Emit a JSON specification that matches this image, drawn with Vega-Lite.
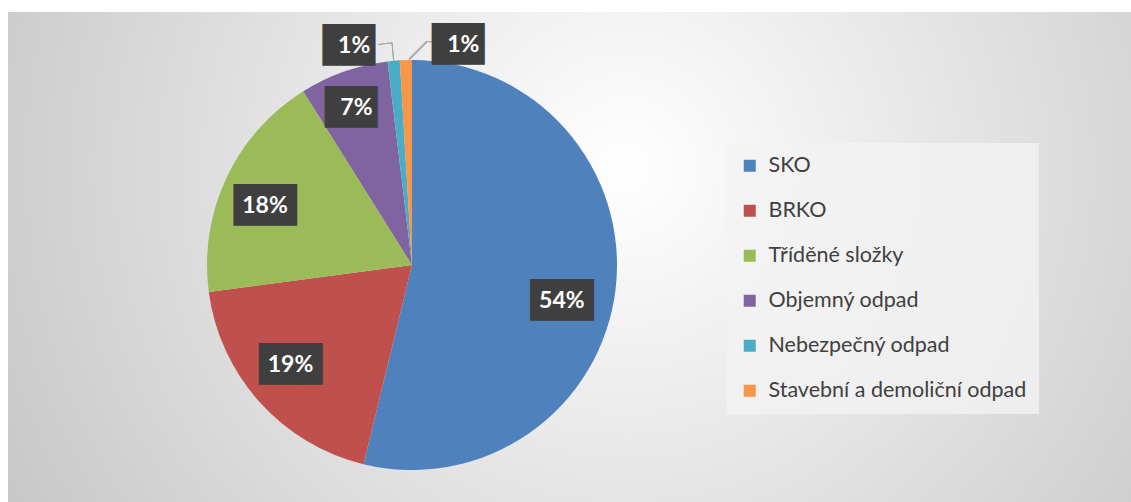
{
  "$schema": "https://vega.github.io/schema/vega-lite/v6.json",
  "width": 1131,
  "height": 502,
  "autosize": {"type": "fit", "contains": "padding"},
  "padding": {"left": 8, "top": 12, "right": 0, "bottom": 0},
  "background": "white",
  "config": {"view": {"stroke": null}},
  "datasets": {
    "waste": [
      {"category": "SKO", "value": 0.538, "rank": 1},
      {"category": "BRKO", "value": 0.191, "rank": 2},
      {"category": "Tříděné složky", "value": 0.182, "rank": 3},
      {"category": "Objemný odpad", "value": 0.07, "rank": 4},
      {"category": "Nebezpečný odpad", "value": 0.0095, "rank": 5},
      {"category": "Stavební a demoliční odpad", "value": 0.0095, "rank": 6}
    ]
  },
  "layer": [
    {
      "data": {"values": [{"bg": 1}]},
      "mark": {
        "type": "rect",
        "fill": {
          "gradient": "radial",
          "x1": 0.55, "y1": 0.42, "r1": 0,
          "x2": 0.55, "y2": 0.42, "r2": 0.72,
          "stops": [
            {"offset": 0, "color": "#ffffff"},
            {"offset": 1, "color": "#bfbfbf"}
          ]
        }
      },
      "encoding": {}
    },
    {
      "data": {"name": "waste"},
      "transform": [
        {"stack": "value", "groupby": [], "sort": [{"field": "rank", "order": "ascending"}], "as": ["v0", "v1"]},
        {"calculate": "(datum.v0 + datum.v1) / 2", "as": "mid"}
      ],
      "layer": [
        {
          "mark": {"type": "arc", "x": 404, "y": 253, "outerRadius": 205},
          "encoding": {
            "theta": {"field": "v0", "type": "quantitative", "scale": {"domain": [0, 1]}},
            "theta2": {"field": "v1"},
            "color": {
              "field": "category",
              "type": "nominal",
              "scale": {
                "domain": ["SKO", "BRKO", "Tříděné složky", "Objemný odpad", "Nebezpečný odpad", "Stavební a demoliční odpad"],
                "range": ["#4F81BD", "#C0504D", "#9BBB59", "#8064A2", "#4BACC6", "#F79646"]
              },
              "legend": {
                "orient": "none",
                "legendX": 719,
                "legendY": 131,
                "title": null,
                "symbolType": "square",
                "symbolSize": 144,
                "symbolStrokeWidth": 0,
                "labelFont": "Lato",
                "labelFontSize": 21.5,
                "labelColor": "#404040",
                "rowPadding": 22,
                "padding": 12,
                "fillColor": "rgba(242,242,242,0.8)",
                "labelOffset": 8,
                "labelLimit": 400
              }
            }
          }
        },
        {
          "transform": [{"filter": "datum.rank == 5"}],
          "layer": [
            {
              "mark": {"type": "arc", "x": 404, "y": 253, "innerRadius": 205, "outerRadius": 223, "fillOpacity": 0, "stroke": "#a6a6a6", "strokeWidth": 1},
              "encoding": {"theta": {"field": "mid", "type": "quantitative"}, "theta2": {"field": "mid"}}
            },
            {
              "mark": {"type": "arc", "x": 404, "y": 253, "innerRadius": 223, "outerRadius": 223, "thetaOffset": -0.0623, "fillOpacity": 0, "stroke": "#a6a6a6", "strokeWidth": 1},
              "encoding": {"theta": {"field": "mid", "type": "quantitative"}, "theta2": {"field": "mid"}}
            }
          ]
        },
        {
          "transform": [{"filter": "datum.rank == 6"}],
          "layer": [
            {
              "mark": {"type": "text", "x": 404, "y": 253, "radius": 214, "thetaOffset": 0.0625, "angle": -45, "font": "DejaVu Sans Mono", "fontSize": 21, "color": "#a6a6a6", "baseline": "middle", "align": "center"},
              "encoding": {"theta": {"field": "mid", "type": "quantitative"}, "text": {"value": "──"}}
            },
            {
              "mark": {"type": "arc", "x": 404, "y": 253, "innerRadius": 224, "outerRadius": 224, "thetaOffset": 0.1014, "theta2Offset": 0.1548, "fillOpacity": 0, "stroke": "#a6a6a6", "strokeWidth": 1},
              "encoding": {"theta": {"field": "mid", "type": "quantitative"}, "theta2": {"field": "mid"}}
            }
          ]
        },
        {
          "transform": [{"filter": "datum.rank == 1"}],
          "layer": [
            {
              "mark": {"type": "text", "x": 404, "y": 253, "radius": 157, "dx": -6, "dy": 17, "font": "DejaVu Sans Mono", "fontSize": 35, "color": "#3f3f3f", "baseline": "middle", "align": "center"},
              "encoding": {"theta": {"field": "mid", "type": "quantitative"}, "text": {"value": "███"}}
            },
            {
              "mark": {"type": "text", "x": 404, "y": 253, "radius": 157, "dx": -6, "dy": 17, "font": "Lato", "fontWeight": "bold", "fontSize": 23, "color": "white", "baseline": "middle", "align": "center"},
              "encoding": {"theta": {"field": "mid", "type": "quantitative"}, "text": {"field": "value", "type": "quantitative", "format": ".0%"}}
            }
          ]
        },
        {
          "transform": [{"filter": "datum.rank == 2"}],
          "layer": [
            {
              "mark": {"type": "text", "x": 404, "y": 253, "radius": 158, "dx": -4, "dy": -6, "font": "DejaVu Sans Mono", "fontSize": 35, "color": "#3f3f3f", "baseline": "middle", "align": "center"},
              "encoding": {"theta": {"field": "mid", "type": "quantitative"}, "text": {"value": "███"}}
            },
            {
              "mark": {"type": "text", "x": 404, "y": 253, "radius": 158, "dx": -4, "dy": -6, "font": "Lato", "fontWeight": "bold", "fontSize": 23, "color": "white", "baseline": "middle", "align": "center"},
              "encoding": {"theta": {"field": "mid", "type": "quantitative"}, "text": {"field": "value", "type": "quantitative", "format": ".0%"}}
            }
          ]
        },
        {
          "transform": [{"filter": "datum.rank == 3"}],
          "layer": [
            {
              "mark": {"type": "text", "x": 404, "y": 253, "radius": 158, "dx": -4, "dy": 8, "font": "DejaVu Sans Mono", "fontSize": 35, "color": "#3f3f3f", "baseline": "middle", "align": "center"},
              "encoding": {"theta": {"field": "mid", "type": "quantitative"}, "text": {"value": "███"}}
            },
            {
              "mark": {"type": "text", "x": 404, "y": 253, "radius": 158, "dx": -4, "dy": 8, "font": "Lato", "fontWeight": "bold", "fontSize": 23, "color": "white", "baseline": "middle", "align": "center"},
              "encoding": {"theta": {"field": "mid", "type": "quantitative"}, "text": {"field": "value", "type": "quantitative", "format": ".0%"}}
            }
          ]
        },
        {
          "transform": [{"filter": "datum.rank == 4"}],
          "layer": [
            {
              "mark": {"type": "text", "x": 404, "y": 253, "radius": 167, "font": "DejaVu Sans Mono", "fontSize": 35, "color": "#3f3f3f", "baseline": "middle", "align": "center"},
              "encoding": {"theta": {"field": "mid", "type": "quantitative"}, "text": {"value": "██▌"}}
            },
            {
              "mark": {"type": "text", "x": 404, "y": 253, "radius": 167, "font": "Lato", "fontWeight": "bold", "fontSize": 23, "color": "white", "baseline": "middle", "align": "center"},
              "encoding": {"theta": {"field": "mid", "type": "quantitative"}, "text": {"field": "value", "type": "quantitative", "format": ".0%"}}
            }
          ]
        },
        {
          "transform": [{"filter": "datum.rank == 5"}],
          "layer": [
            {
              "mark": {"type": "text", "x": 404, "y": 253, "radius": 222, "dx": -38, "dy": 2, "font": "DejaVu Sans Mono", "fontSize": 35, "color": "#3f3f3f", "baseline": "middle", "align": "center"},
              "encoding": {"theta": {"field": "mid", "type": "quantitative"}, "text": {"value": "██▌"}}
            },
            {
              "mark": {"type": "text", "x": 404, "y": 253, "radius": 222, "dx": -38, "dy": 2, "font": "Lato", "fontWeight": "bold", "fontSize": 23, "color": "white", "baseline": "middle", "align": "center"},
              "encoding": {"theta": {"field": "mid", "type": "quantitative"}, "text": {"field": "value", "type": "quantitative", "format": ".0%"}}
            }
          ]
        },
        {
          "transform": [{"filter": "datum.rank == 6"}],
          "layer": [
            {
              "mark": {"type": "text", "x": 404, "y": 253, "radius": 222, "dx": 58, "dy": 2, "font": "DejaVu Sans Mono", "fontSize": 35, "color": "#3f3f3f", "baseline": "middle", "align": "center"},
              "encoding": {"theta": {"field": "mid", "type": "quantitative"}, "text": {"value": "██▌"}}
            },
            {
              "mark": {"type": "text", "x": 404, "y": 253, "radius": 222, "dx": 58, "dy": 2, "font": "Lato", "fontWeight": "bold", "fontSize": 23, "color": "white", "baseline": "middle", "align": "center"},
              "encoding": {"theta": {"field": "mid", "type": "quantitative"}, "text": {"field": "value", "type": "quantitative", "format": ".0%"}}
            }
          ]
        }
      ]
    }
  ]
}
